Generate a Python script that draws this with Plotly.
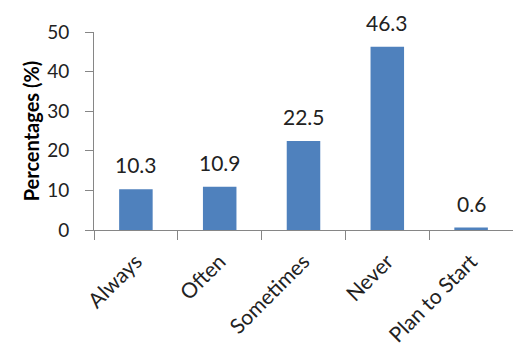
import plotly.graph_objects as go

categories = ["Always", "Often", "Sometimes", "Never", "Plan to Start"]
values = [10.3, 10.9, 22.5, 46.3, 0.6]
labels = ["10.3", "10.9", "22.5", "46.3", "0.6"]
y_ticks = [0, 10, 20, 30, 40, 50]

FONT = "Lato, 'Open Sans', sans-serif"

fig = go.Figure()
fig.add_trace(go.Bar(x=categories, y=values, marker=dict(color="#4F81BD", line=dict(width=0)),
                     width=0.4))

for c, v, t in zip(categories, values, labels):
    fig.add_annotation(x=c, y=v, text=t, showarrow=False, yanchor="bottom", yshift=10,
                       font=dict(size=21, color="#222", family=FONT))

fig.update_layout(
    width=513, height=357,
    margin=dict(l=94, r=0, t=32, b=127),
    paper_bgcolor="white", plot_bgcolor="white",
    showlegend=False,
    font=dict(family=FONT, color="#222"),
)
fig.update_xaxes(
    showline=True, linecolor="#868686", linewidth=1,
    ticks="outside", tickson="boundaries", ticklen=9, tickcolor="#868686",
    tickangle=-45, tickfont=dict(size=21, family=FONT, color="#222"),
    ticklabelstandoff=10,
    showgrid=False, range=[-0.5, 4.5],
)
fig.update_yaxes(
    range=[0, 50], tickvals=y_ticks,
    showline=True, linecolor="#868686", linewidth=1,
    ticks="outside", ticklen=8, tickcolor="#868686",
    tickfont=dict(size=19, family=FONT, color="#222"),
    ticklabelstandoff=12,
    showgrid=False, zeroline=False,
    title=dict(text="<b>Percentages (%)</b>", font=dict(size=20, family=FONT, color="#000"), standoff=2),
)

fig.write_html("out.html")
